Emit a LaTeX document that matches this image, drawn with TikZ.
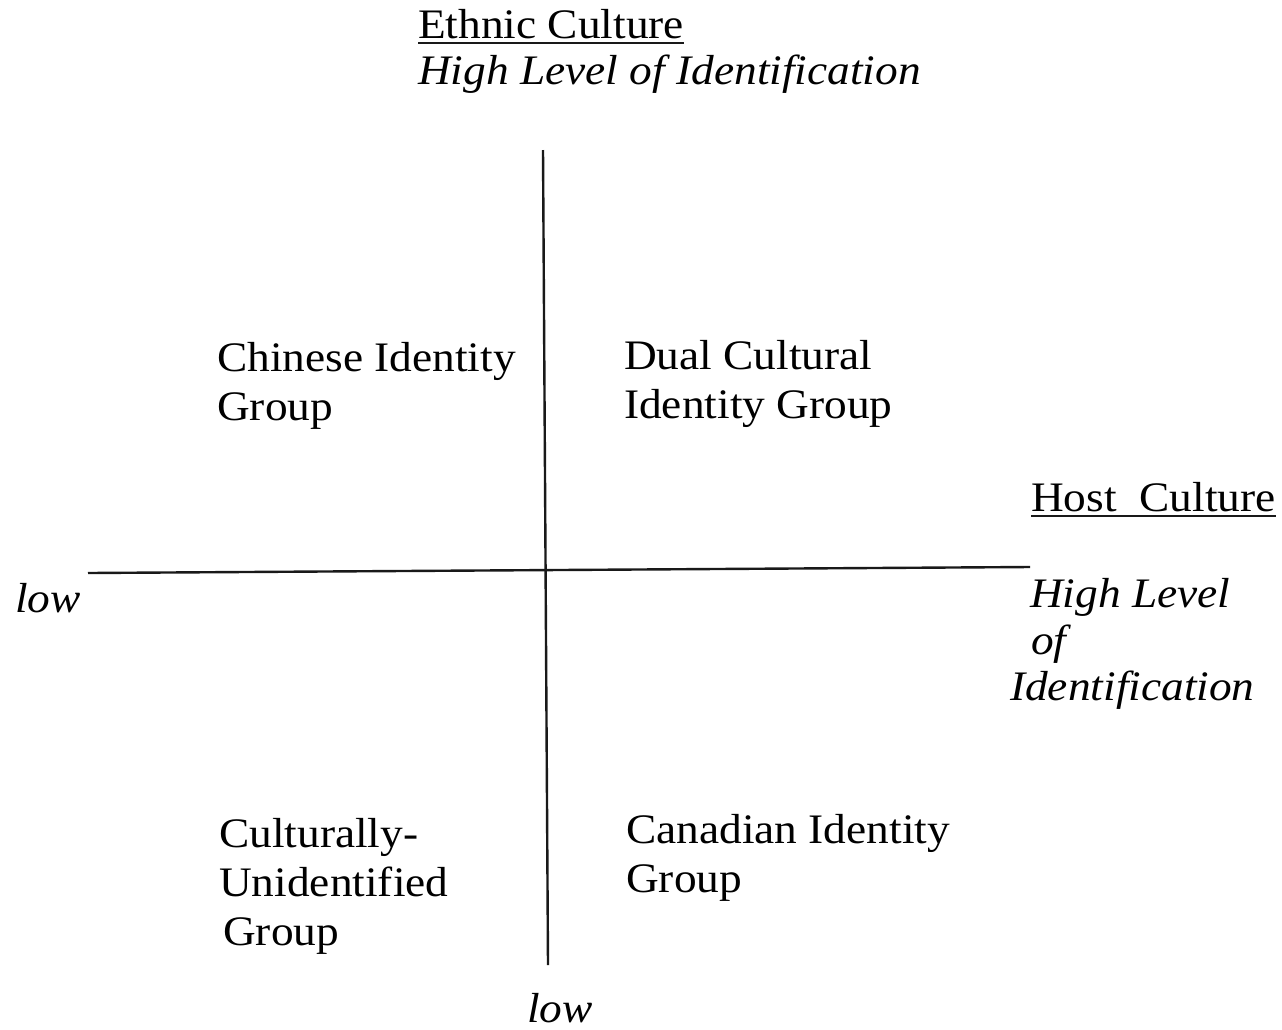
\documentclass[tikz,border=0pt]{standalone}
\usepackage{fontspec}
\setmainfont{Liberation Serif}[FakeStretch=1.08]
\begin{document}
\begin{tikzpicture}[x=1pt,y=-1pt,
  lbl/.style={anchor=base west,inner sep=0pt,align=left,
    font=\fontsize{42}{49}\selectfont},
  ilbl/.style={lbl,font=\fontsize{42}{47}\selectfont\itshape},
  axis/.style={line width=2.4pt,black!90},
  uline/.style={line width=1.8pt,black!90}]
\useasboundingbox[fill=white] (0,0) rectangle (1282,1029);

% axes
\coordinate (vtop) at (543,150);
\coordinate (vbot) at (548,965);
\coordinate (hleft) at (88,573);
\coordinate (hright) at (1030,567);
\draw[axis] (vtop) -- (vbot);
\draw[axis] (hleft) -- (hright);

% vertical axis labels
\node[lbl] (ethnic) at (418,38) {Ethnic Culture};
\draw[uline] ([yshift=-5pt]ethnic.base west) -- ([yshift=-5pt]ethnic.base east);
\node[ilbl] (ethnichigh) at (418,84) {High Level of Identification};
\node[ilbl] (lowbottom) at (527,1022) {low};

% horizontal axis labels
\node[lbl] (host) at (1031,511) {Host\ \ Culture};
\draw[uline] ([yshift=-5pt]host.base west) -- ([yshift=-5pt]host.base east);
\node[ilbl] (hosthigh1) at (1030,607) {High Level};
\node[ilbl] (hosthigh2) at (1031,654) {of};
\node[ilbl] (hosthigh3) at (1010,700) {Identification};
\node[ilbl] (lowleft) at (15,612) {low};

% quadrants (anchored at the baseline of their last line)
\node[lbl] (chinese) at (217,420) {Chinese Identity\\Group};
\node[lbl] (dual) at (624,418) {Dual Cultural\\Identity Group};
\node[lbl] (unid) at (219,945) {Culturally-\\Unidentified\\\hspace*{4pt}Group};
\node[lbl] (canadian) at (626,892) {Canadian Identity\\Group};
\end{tikzpicture}
\end{document}
